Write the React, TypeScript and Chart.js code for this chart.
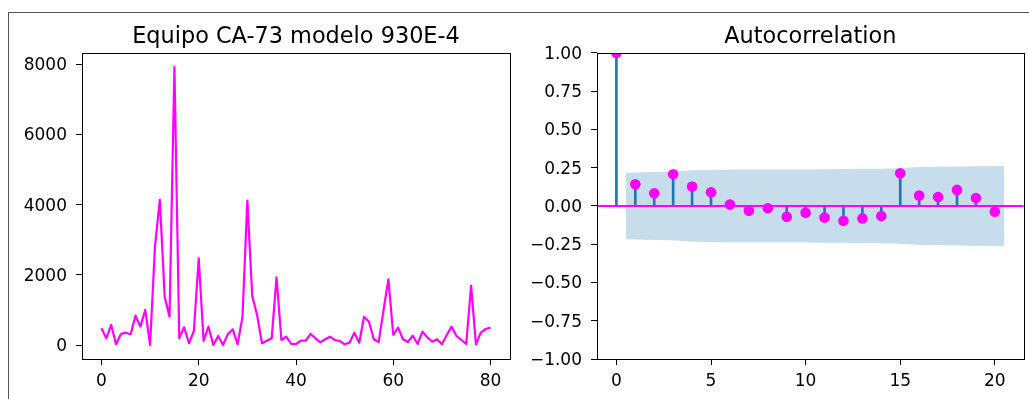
import React, { useEffect, useRef } from "react";
import { Chart, registerables } from "chart.js";

Chart.register(...registerables);

const FONT = "'DejaVu Sans', 'Liberation Sans', sans-serif";

// ---- Left panel: time series ----
const seriesTitle = "Equipo CA-73 modelo 930E-4";
const seriesValues = [
  484, 199, 578, 28, 322, 359, 313, 843, 530, 1005,
  8, 2800, 4137, 1384, 815, 7920, 199, 512, 57, 407,
  2477, 122, 530, 8, 265, 8, 322, 455, 28, 815,
  4117, 1404, 863, 57, 131, 199, 1936, 151, 245, 37,
  37, 131, 131, 322, 199, 85, 171, 245, 151, 122,
  28, 74, 359, 74, 815, 672, 171, 94, 1000, 1879,
  293, 501, 171, 94, 273, 37, 387, 228, 103, 171,
  28, 293, 530, 265, 151, 37, 1688, 28, 359, 464, 501,
];
const seriesXTicks = [0, 20, 40, 60, 80];
const seriesYTicks = [0, 2000, 4000, 6000, 8000];
const seriesXLim = [-4, 84];
const seriesYLim = [-390, 8316];

// ---- Right panel: autocorrelation ----
const acfTitle = "Autocorrelation";
const acfLags = [0, 1, 2, 3, 4, 5, 6, 7, 8, 9, 10, 11, 12, 13, 14, 15, 16, 17, 18, 19, 20];
const acfValues = [
  1.0, 0.142, 0.083, 0.207, 0.127, 0.09, 0.009, -0.031, -0.015, -0.07,
  -0.044, -0.076, -0.096, -0.081, -0.066, 0.214, 0.068, 0.059, 0.105, 0.052, -0.037,
];
const bandLags = [0.5, 2, 3, 4, 5, 6, 7, 8, 9, 10, 11, 12, 13, 14, 15, 16, 17, 18, 19, 20.5];
const bandUpper = [
  0.218, 0.222, 0.224, 0.233, 0.236, 0.238, 0.238, 0.238, 0.238, 0.239,
  0.24, 0.241, 0.243, 0.244, 0.246, 0.255, 0.257, 0.258, 0.26, 0.262,
];
const bandLower = [
  -0.218, -0.222, -0.224, -0.233, -0.236, -0.238, -0.238, -0.238, -0.238, -0.239,
  -0.24, -0.241, -0.243, -0.244, -0.246, -0.255, -0.257, -0.258, -0.26, -0.262,
];
const acfXTicks = [0, 5, 10, 15, 20];
const acfYTicks = [-1, -0.75, -0.5, -0.25, 0, 0.25, 0.5, 0.75, 1];
const acfXLim = [-1.025, 21.525];
const acfYLim = [-1, 1];

const boxPlugin = {
  id: "axesBox",
  afterDatasetsDraw(chart: any) {
    const { ctx, chartArea: a } = chart;
    const l = Math.round(a.left);
    const t = Math.round(a.top);
    const r = Math.round(a.right);
    const b = Math.round(a.bottom);
    ctx.save();
    ctx.strokeStyle = "#000";
    ctx.lineWidth = 1;
    ctx.strokeRect(l + 0.5, t + 0.5, r - l, b - t);
    ctx.restore();
  },
};

function axis(
  min: number,
  max: number,
  ticks: number[],
  fmt: (v: number) => string,
  horizontal: boolean,
  size: number
) {
  return {
    type: "linear",
    min,
    max,
    offset: false,
    afterBuildTicks: (s: any) => {
      s.ticks = ticks.map((v) => ({ value: v }));
    },
    afterFit: (s: any) => {
      if (horizontal) s.height = size;
      else s.width = size;
    },
    grid: {
      offset: false,
      drawOnChartArea: false,
      drawTicks: true,
      tickLength: 6,
      color: "#000",
      lineWidth: 1,
    },
    border: { display: false },
    ticks: {
      color: "#000",
      font: { family: FONT, size: 17 },
      padding: horizontal ? 6 : 9,
      labelOffset: horizontal ? 0 : 1.5,
      maxRotation: 0,
      autoSkip: false,
      callback: (v: any) => fmt(Number(v)),
    },
  };
}

function titleOpts(text: string) {
  return {
    display: true,
    text,
    fullSize: false,
    color: "#000",
    font: { family: FONT, size: 22.4, weight: "normal", lineHeight: 1.2 },
    padding: { top: 24, bottom: 2.1 },
  };
}

const intFmt = (v: number) => String(Math.round(v));
const accFmt = (v: number) => v.toFixed(2).replace("-", "\u2212");

export default function App() {
  const leftRef = useRef<HTMLCanvasElement>(null);
  const rightRef = useRef<HTMLCanvasElement>(null);

  useEffect(() => {
    const left = new Chart(leftRef.current as HTMLCanvasElement, {
      type: "line",
      data: {
        datasets: [
          {
            data: seriesValues.map((v, i) => ({ x: i, y: v })),
            borderColor: "#ff00ff",
            borderWidth: 2.2,
            pointRadius: 0,
            tension: 0,
            fill: false,
            borderJoinStyle: "round",
          },
        ],
      },
      options: {
        responsive: false,
        animation: false,
        devicePixelRatio: 1,
        layout: { padding: { left: 0, right: 5, top: 0, bottom: 0 } },
        plugins: {
          legend: { display: false },
          tooltip: { enabled: false },
          title: titleOpts(seriesTitle),
        },
        scales: {
          x: axis(seriesXLim[0], seriesXLim[1], seriesXTicks, intFmt, true, 40),
          y: axis(seriesYLim[0], seriesYLim[1], seriesYTicks, intFmt, false, 82),
        },
      } as any,
      plugins: [boxPlugin],
    } as any);

    const right = new Chart(rightRef.current as HTMLCanvasElement, {
      type: "line",
      data: {
        datasets: [
          {
            type: "line",
            data: acfLags.map((x, i) => ({ x, y: acfValues[i] })),
            showLine: false,
            pointRadius: 5.3,
            pointBackgroundColor: "#ff00ff",
            pointBorderWidth: 0,
            borderColor: "#ff00ff",
            order: 0,
            clip: 0,
          },
          {
            type: "line",
            data: [
              { x: acfXLim[0], y: 0 },
              { x: acfXLim[1], y: 0 },
            ],
            borderColor: "#ff00ff",
            borderWidth: 2,
            pointRadius: 0,
            fill: false,
            order: 1,
          },
          {
            type: "bar",
            data: acfLags.map((x, i) => ({ x, y: acfValues[i] })),
            backgroundColor: "#1f77b4",
            borderWidth: 0,
            barThickness: 2,
            order: 2,
          },
          {
            type: "line",
            data: bandLags.map((x, i) => ({ x, y: bandUpper[i] })),
            borderWidth: 0,
            borderColor: "rgba(0,0,0,0)",
            pointRadius: 0,
            backgroundColor: "rgba(31,119,180,0.25)",
            fill: "+1",
            tension: 0,
            order: 3,
          },
          {
            type: "line",
            data: bandLags.map((x, i) => ({ x, y: bandLower[i] })),
            borderWidth: 0,
            borderColor: "rgba(0,0,0,0)",
            pointRadius: 0,
            fill: false,
            tension: 0,
            order: 4,
          },
        ],
      },
      options: {
        responsive: false,
        animation: false,
        devicePixelRatio: 1,
        layout: { padding: { left: 0, right: 5, top: 0, bottom: 0 } },
        plugins: {
          legend: { display: false },
          tooltip: { enabled: false },
          title: titleOpts(acfTitle),
        },
        scales: {
          x: axis(acfXLim[0], acfXLim[1], acfXTicks, intFmt, true, 40),
          y: axis(acfYLim[0], acfYLim[1], acfYTicks, accFmt, false, 77),
        },
      } as any,
      plugins: [boxPlugin],
    } as any);

    return () => {
      left.destroy();
      right.destroy();
    };
  }, []);

  return (
    <div
      style={{
        position: "absolute",
        left: 0,
        top: 0,
        width: 1029,
        height: 399,
        background: "#fff",
        overflow: "hidden",
      }}
    >
      <div
        style={{
          position: "absolute",
          left: 8,
          top: 12,
          width: 1030,
          height: 400,
          borderTop: "1px solid #555",
          borderLeft: "1px solid #555",
        }}
      />
      <canvas
        ref={leftRef}
        width={515}
        height={399}
        style={{ position: "absolute", left: 0, top: 0, width: 515, height: 399 }}
      />
      <canvas
        ref={rightRef}
        width={509}
        height={399}
        style={{ position: "absolute", left: 520, top: 0, width: 509, height: 399 }}
      />
    </div>
  );
}
